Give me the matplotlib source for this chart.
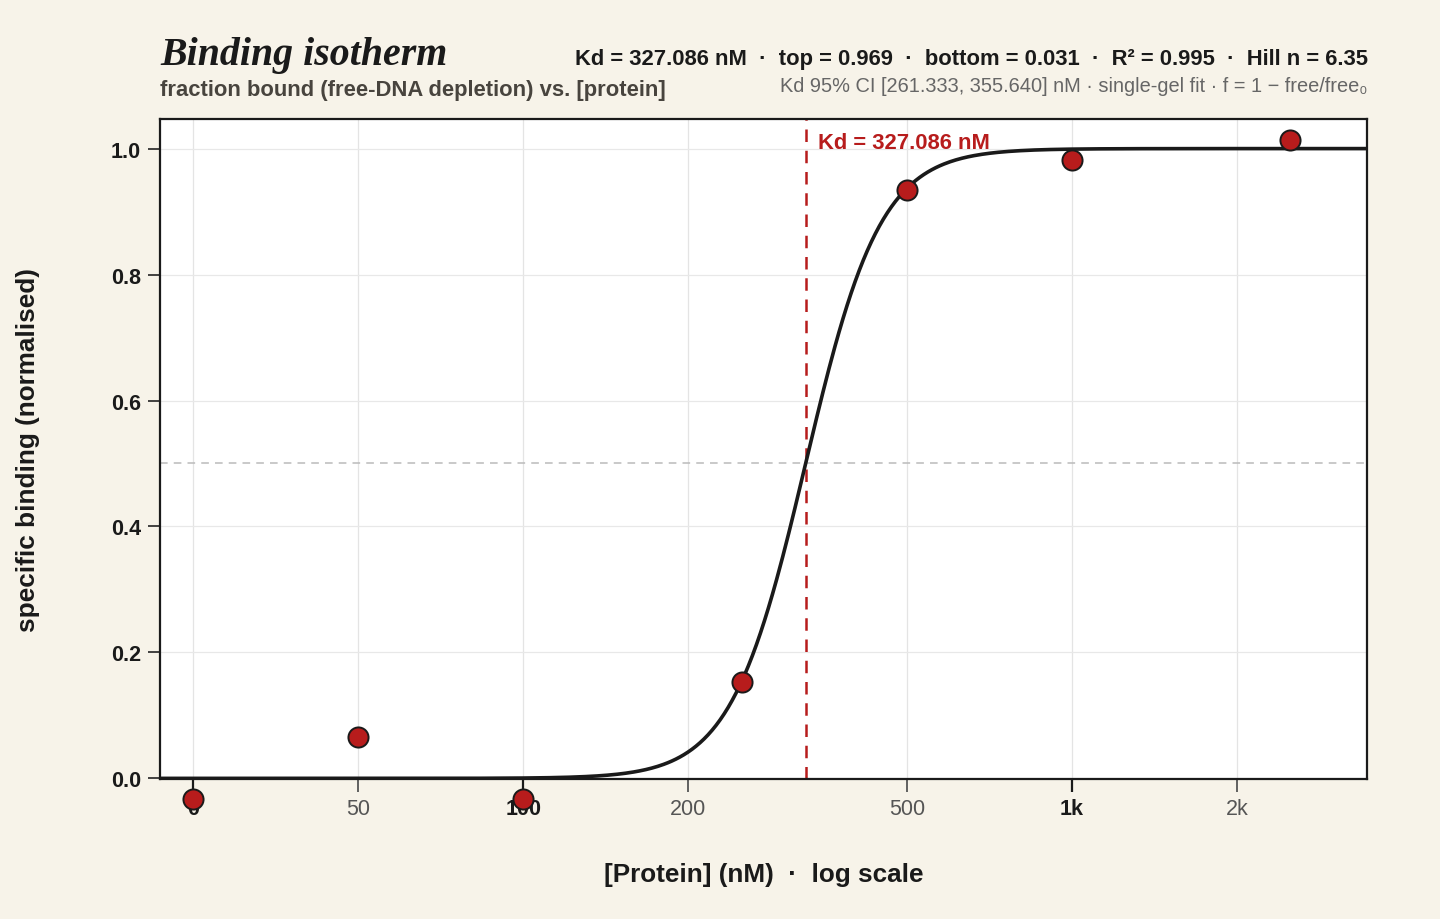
import numpy as np
import matplotlib
matplotlib.use("Agg")
import matplotlib.pyplot as plt
from matplotlib.transforms import offset_copy

plt.rcParams['font.family'] = ['Liberation Sans', 'DejaVu Sans']

# ---- data ----
conc_nM = [0, 50, 100, 250, 500, 1000, 2500]
fraction_bound = [-0.033, 0.065, -0.033, 0.153, 0.935, 0.982, 1.014]
ZERO_POS = 25  # where the 0 nM lane is placed on the log axis
kd_nM = 327.086
hill_n = 6.35
major_ticks = [25, 100, 1000]
major_labels = ["0", "100", "1k"]
minor_ticks = [50, 200, 500, 2000]
minor_labels = ["50", "200", "500", "2k"]
y_ticks = [0.0, 0.2, 0.4, 0.6, 0.8, 1.0]

BG = "#F7F3E9"
RED = "#B71C1C"
INK = "#1a1a1a"

fig = plt.figure(figsize=(14.4, 9.2), dpi=100, facecolor=BG)
ax = fig.add_axes([160/1440, 1-780/920, (1367-160)/1440, (780-120)/920])
ax.set_facecolor("white")

xlo, xhi = 21.8, 3446
ax.set_xscale("log")
ax.set_xlim(xlo, xhi)
ax.set_ylim(-0.001, 1.047)

# grid
for xv in major_ticks + minor_ticks:
    ax.axvline(xv, color="#e4e4e4", lw=0.9, zorder=0)
for yv in y_ticks:
    ax.axhline(yv, color="#e8e8e8", lw=0.9, zorder=0)

# reference lines
ax.axhline(0.5, color="#bbbbbb", lw=1.1, ls=(0, (5, 4)), zorder=1)
ax.axvline(kd_nM, color=RED, lw=1.8, ls=(0, (5, 3.5)), zorder=2)

# fit curve
xc = np.geomspace(xlo, xhi, 600)
yc = xc**hill_n / (kd_nM**hill_n + xc**hill_n)
ax.plot(xc, yc, color=INK, lw=2.6, zorder=3, solid_capstyle="butt")

# points
xp = [ZERO_POS if c == 0 else c for c in conc_nM]
ax.scatter(xp, fraction_bound, s=210, facecolor=RED, edgecolor=INK,
           linewidth=1.4, zorder=5, clip_on=False)

ax.text(kd_nM, 1.01, "Kd = 327.086 nM", color=RED, fontsize=15.8,
        fontweight="bold", ha="left", va="center", zorder=6,
        transform=offset_copy(ax.transData, fig=fig, x=12, y=0, units="dots"))

# ticks
ax.set_xticks(major_ticks)
ax.set_xticklabels(major_labels)
ax.set_xticks(minor_ticks, minor=True)
ax.set_xticklabels(minor_labels, minor=True)
ax.tick_params(axis="x", which="major", length=9, width=1.6, color=INK,
               labelsize=15.5, labelcolor=INK, pad=5)
ax.tick_params(axis="x", which="minor", length=9, width=1.3, color="#555555",
               labelsize=15.5, labelcolor="#555555", pad=5)
for lab in ax.get_xticklabels(which="major"):
    lab.set_fontweight("bold")

ax.set_yticks(y_ticks)
ax.set_yticklabels([f"{v:.1f}" for v in y_ticks])
ax.tick_params(axis="y", length=9, width=1.3, color="#333333", labelsize=15.5,
               labelcolor=INK, pad=4.5)
for lab in ax.get_yticklabels():
    lab.set_fontweight("bold")

for sp in ax.spines.values():
    sp.set_color(INK)
    sp.set_linewidth(1.6)

ax.set_xlabel("[Protein] (nM)  ·  log scale", fontsize=18.8, fontweight="bold",
              color=INK)
ax.xaxis.set_label_coords(0.5, -(875 - 780) / 660, transform=ax.transAxes)
ax.xaxis.label.set_va("center")
ax.set_ylabel("specific binding (normalised)", fontsize=18.8, fontweight="bold",
              color=INK)
ax.yaxis.set_label_coords(-(160 - 28) / 1207, 0.5)
ax.yaxis.label.set_va("center")

# header texts
fig.text(160/1440, 1-65/920, "Binding isotherm", family=["Liberation Serif", "DejaVu Serif"],
         style="italic", fontweight="bold", fontsize=28.7, color=INK, ha="left", va="baseline")
fig.text(160/1440, 1-96/920, "fraction bound (free-DNA depletion) vs. [protein]",
         fontsize=15.8, fontweight="bold", color="#48443e", ha="left", va="baseline")
fig.text(1368/1440, 1-65/920,
         "Kd = 327.086 nM  ·  top = 0.969  ·  bottom = 0.031  ·  R² = 0.995  ·  Hill n = 6.35",
         fontsize=15.8, fontweight="bold", color=INK, ha="right", va="baseline")
fig.text(1368/1440, 1-92/920,
         "Kd 95% CI [261.333, 355.640] nM · single-gel fit · f = 1 − free/free₀",
         fontsize=14.4, color="#666666", ha="right", va="baseline")

fig.savefig("out.png", dpi=100, facecolor=BG)
